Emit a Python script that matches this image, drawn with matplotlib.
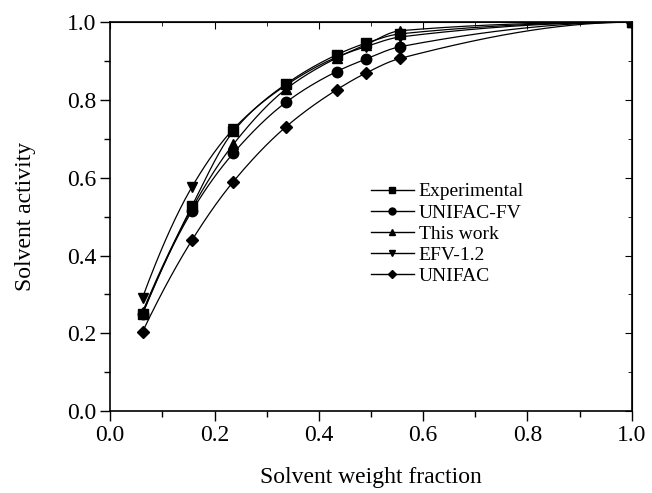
import numpy as np
import matplotlib
matplotlib.use("Agg")
import matplotlib.pyplot as plt
from matplotlib.ticker import MultipleLocator

plt.rcParams['font.family'] = ['Liberation Serif', 'DejaVu Serif']

x = [0.062, 0.157, 0.236, 0.337, 0.434, 0.490, 0.556, 1.0]
experimental = [0.250, 0.528, 0.719, 0.841, 0.916, 0.946, 0.970, 1.0]
unifac_fv = [0.250, 0.515, 0.663, 0.794, 0.873, 0.905, 0.937, 1.0]
this_work = [0.255, 0.522, 0.686, 0.828, 0.908, 0.942, 0.978, 1.0]
efv12 = [0.292, 0.577, 0.725, 0.838, 0.910, 0.937, 0.962, 1.0]
unifac = [0.204, 0.440, 0.590, 0.731, 0.826, 0.869, 0.907, 1.0]

series = [
    ("Experimental", experimental, 's'),
    ("UNIFAC-FV", unifac_fv, 'o'),
    ("This work", this_work, '^'),
    ("EFV-1.2", efv12, 'v'),
    ("UNIFAC", unifac, 'D'),
]


def pchip(xk, yk, xs):
    xk = np.asarray(xk, float); yk = np.asarray(yk, float)
    h = np.diff(xk); d = np.diff(yk) / h
    n = len(xk); m = np.zeros(n)
    for k in range(1, n - 1):
        if d[k - 1] * d[k] > 0:
            w1 = 2 * h[k] + h[k - 1]; w2 = h[k] + 2 * h[k - 1]
            m[k] = (w1 + w2) / (w1 / d[k - 1] + w2 / d[k])
    m[0] = ((2 * h[0] + h[1]) * d[0] - h[0] * d[1]) / (h[0] + h[1])
    if np.sign(m[0]) != np.sign(d[0]):
        m[0] = 0
    m[-1] = ((2 * h[-1] + h[-2]) * d[-1] - h[-1] * d[-2]) / (h[-1] + h[-2])
    if np.sign(m[-1]) != np.sign(d[-1]):
        m[-1] = 0
    idx = np.clip(np.searchsorted(xk, xs) - 1, 0, n - 2)
    t = (xs - xk[idx]) / h[idx]
    h00 = 2 * t**3 - 3 * t**2 + 1; h10 = t**3 - 2 * t**2 + t
    h01 = -2 * t**3 + 3 * t**2; h11 = t**3 - t**2
    return h00 * yk[idx] + h10 * h[idx] * m[idx] + h01 * yk[idx + 1] + h11 * h[idx] * m[idx + 1]


fig = plt.figure(figsize=(6.52, 4.93), dpi=100)
ax = fig.add_axes([0.169, 0.166, 0.800, 0.789])

xs = np.linspace(x[0], x[-1], 300)
for name, ys, mk in series:
    ax.plot(xs, pchip(x, ys, xs), color='black', lw=0.9)
    ax.plot(x, ys, linestyle='none', marker=mk, color='black', ms=7.5 if mk != 'D' else 6.5)
    ax.plot([], [], color='black', lw=1.0, marker=mk, ms=5 if mk != 'D' else 4.5, label=name)

ax.set_xlim(0, 1.0)
ax.set_ylim(0, 1.0)
ax.xaxis.set_major_locator(MultipleLocator(0.2))
ax.xaxis.set_minor_locator(MultipleLocator(0.1))
ax.yaxis.set_major_locator(MultipleLocator(0.2))
ax.yaxis.set_minor_locator(MultipleLocator(0.1))
ax.xaxis.set_major_formatter(plt.FormatStrFormatter('%.1f'))
ax.yaxis.set_major_formatter(plt.FormatStrFormatter('%.1f'))
ax.tick_params(which='both', direction='out', labelsize=17, width=1.0, pad=3)
ax.tick_params(which='major', length=7)
ax.tick_params(which='minor', length=4)
for s in ax.spines.values():
    s.set_linewidth(1.2)

top = ax.secondary_xaxis('top')
top.xaxis.set_major_locator(MultipleLocator(0.2))
top.xaxis.set_minor_locator(MultipleLocator(0.1))
top.tick_params(which='both', direction='in', labeltop=False)
top.tick_params(which='major', length=5)
top.tick_params(which='minor', length=3)
right = ax.secondary_yaxis('right')
right.yaxis.set_major_locator(MultipleLocator(0.2))
right.yaxis.set_minor_locator(MultipleLocator(0.1))
right.tick_params(which='both', direction='in', labelright=False)
right.tick_params(which='major', length=5)
right.tick_params(which='minor', length=3)

ax.set_xlabel("Solvent weight fraction", fontsize=17, labelpad=15)
ax.set_ylabel("Solvent activity", fontsize=17, labelpad=22)

ax.legend(loc='upper left', bbox_to_anchor=(0.50, 0.587), frameon=False, fontsize=14,
          handlelength=2.2, handletextpad=0.25, labelspacing=0.18, borderaxespad=0,
          borderpad=0)

fig.savefig("out.png", dpi=100)
